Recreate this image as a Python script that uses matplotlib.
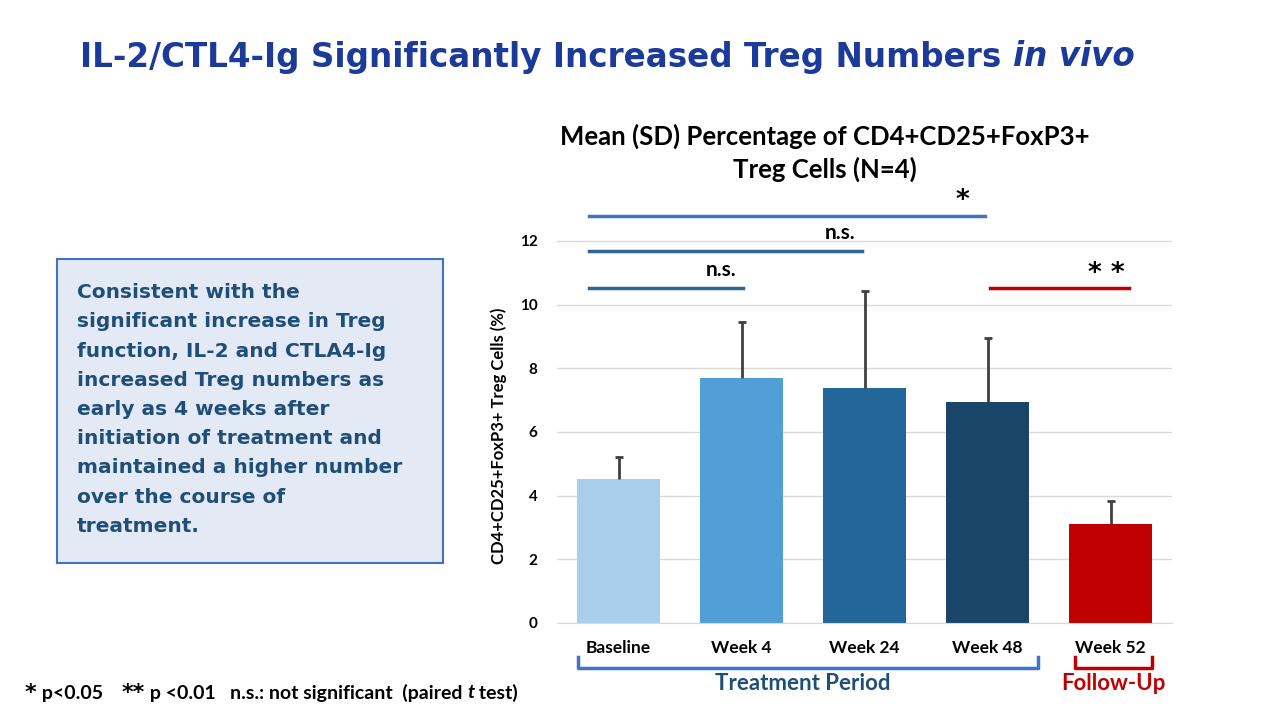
import numpy as np
import matplotlib.pyplot as plt
from matplotlib.patches import Rectangle

categories = ["Baseline", "Week 4", "Week 24", "Week 48", "Week 52"]
means = [4.52, 7.70, 7.38, 6.94, 3.11]
sds = [0.70, 1.76, 3.05, 2.01, 0.72]
bar_colors = ["#A9CEEB", "#529FD8", "#236699", "#1A4468", "#C00000"]

# significance brackets: (x start, x end, y, label, colour)
sig_lines = [
    (-0.24, 2.98, 12.79, "*", "#4472C4"),
    (-0.24, 1.98, 11.69, "n.s.", "#2E6496"),
    (-0.24, 1.01, 10.52, "n.s.", "#2E6496"),
    (3.02, 4.15, 10.52, "* *", "#C00000"),
]

fig = plt.figure(figsize=(12.8, 7.2), dpi=100)
font = ["Lato", "DejaVu Sans"]
renderer = fig.canvas.get_renderer()


def chain(pieces, x_px, y):
    # put text pieces one after another on a line, measuring each
    for s, kw in pieces:
        t = fig.text(x_px / 1280, y, s, va="center", ha="left", **kw)
        x_px = t.get_window_extent(renderer).x1


title_kw = dict(fontsize=23.5, fontweight="bold", color="#1B3A99", family="DejaVu Sans")
chain([("IL-2/CTL4-Ig Significantly Increased Treg Numbers ", title_kw),
       ("in vivo", dict(title_kw, style="italic"))], 80, 1 - 57 / 720)

# side text box
fig.patches.append(Rectangle((57 / 1280, 1 - 563 / 720), 386 / 1280, 304 / 720,
                             transform=fig.transFigure, facecolor="#E4EAF5",
                             edgecolor="#4472C4", linewidth=1.5))
box_text = ("Consistent with the\nsignificant increase in Treg\nfunction, IL-2 and CTLA4-Ig\n"
            "increased Treg numbers as\nearly as 4 weeks after\ninitiation of treatment and\n"
            "maintained a higher number\nover the course of\ntreatment.")
fig.text(77 / 1280, 1 - 409.5 / 720, box_text, ha="left", va="center", fontsize=14.5,
         fontweight="bold", color="#1F4E79", family="DejaVu Sans", linespacing=1.68)

ax = fig.add_axes([557 / 1280, 1 - 623 / 720, 615 / 1280, 414 / 720])
x = np.arange(len(categories))
ax.bar(x, means, width=0.67, color=bar_colors, zorder=2)
eb = ax.errorbar(x, means, yerr=[np.zeros(len(sds)), sds], fmt="none", ecolor="#404040",
                 elinewidth=2, capsize=3, capthick=2, zorder=3)
eb[1][0].set_visible(False)  # no cap at the bar top
ax.set_xlim(-0.5, 4.5)
ax.set_ylim(0, 13)
ax.set_yticks(range(0, 13, 2))
ax.grid(axis="y", color="#D9D9D9", linewidth=1, zorder=0)
for s in ["top", "right", "left"]:
    ax.spines[s].set_visible(False)
ax.spines["bottom"].set_color("#D9D9D9")
ax.tick_params(length=0, pad=12)
ax.set_xticks(x)
ax.set_xticklabels(categories, family=font, fontsize=12.5, fontweight="bold")
for lab in ax.get_yticklabels():
    lab.set_family(font)
    lab.set_fontweight("bold")
    lab.set_fontsize(11)
ax.tick_params(axis="y", pad=14)
ax.set_ylabel("CD4+CD25+FoxP3+ Treg Cells (%)", family=font, fontsize=12,
              fontweight="bold")
ax.yaxis.set_label_coords(-0.082, 0.452)

for x0, x1, y, lab, c in sig_lines:
    ax.plot([x0, x1], [y, y], color=c, linewidth=2.5, clip_on=False, zorder=4)
    if "*" in lab:
        ax.text(x1 - 0.18, y + 0.45, lab, ha="center", va="center", fontsize=19,
                fontweight="bold", family="DejaVu Sans", color="black")
    else:
        ax.text(x1 - 0.18, y + 0.25, lab, ha="center", va="bottom", fontsize=15,
                fontweight="bold", family=font, color="black")

fig.text(825 / 1280, 1 - 153 / 720, "Mean (SD) Percentage of CD4+CD25+FoxP3+\nTreg Cells (N=4)",
         ha="center", va="center", family=font, fontsize=18.5, fontweight="bold",
         linespacing=1.35)


# period brackets below the axis
def bracket(x0, x1, color):
    tr = ax.get_xaxis_transform()
    ax.plot([x0, x0, x1, x1], [-0.082, -0.109, -0.109, -0.082], color=color,
            linewidth=2.5, transform=tr, clip_on=False)


tr = ax.get_xaxis_transform()
bracket(-0.33, 3.41, "#4472C4")
ax.text(1.5, -0.145, "Treatment Period", transform=tr, ha="center", va="center",
        fontsize=16, fontweight="bold", family=font, color="#1F4E79")
bracket(3.71, 4.34, "#C00000")
ax.text(4.02, -0.145, "Follow-Up", transform=tr, ha="center", va="center",
        fontsize=16, fontweight="bold", family=font, color="#C00000")

# footnote
fy = 1 - 693 / 720
fk = dict(fontsize=14, fontweight="bold", family=font)
ak = dict(fontsize=16, fontweight="bold", family="DejaVu Sans")
chain([("*", ak), (" p<0.05    ", fk), ("**", ak), (" p <0.01   n.s.: not significant  (paired ", fk),
       ("t", dict(fk, style="italic")), (" test)", fk)], 25, fy)

fig.savefig("out.png", dpi=100)
